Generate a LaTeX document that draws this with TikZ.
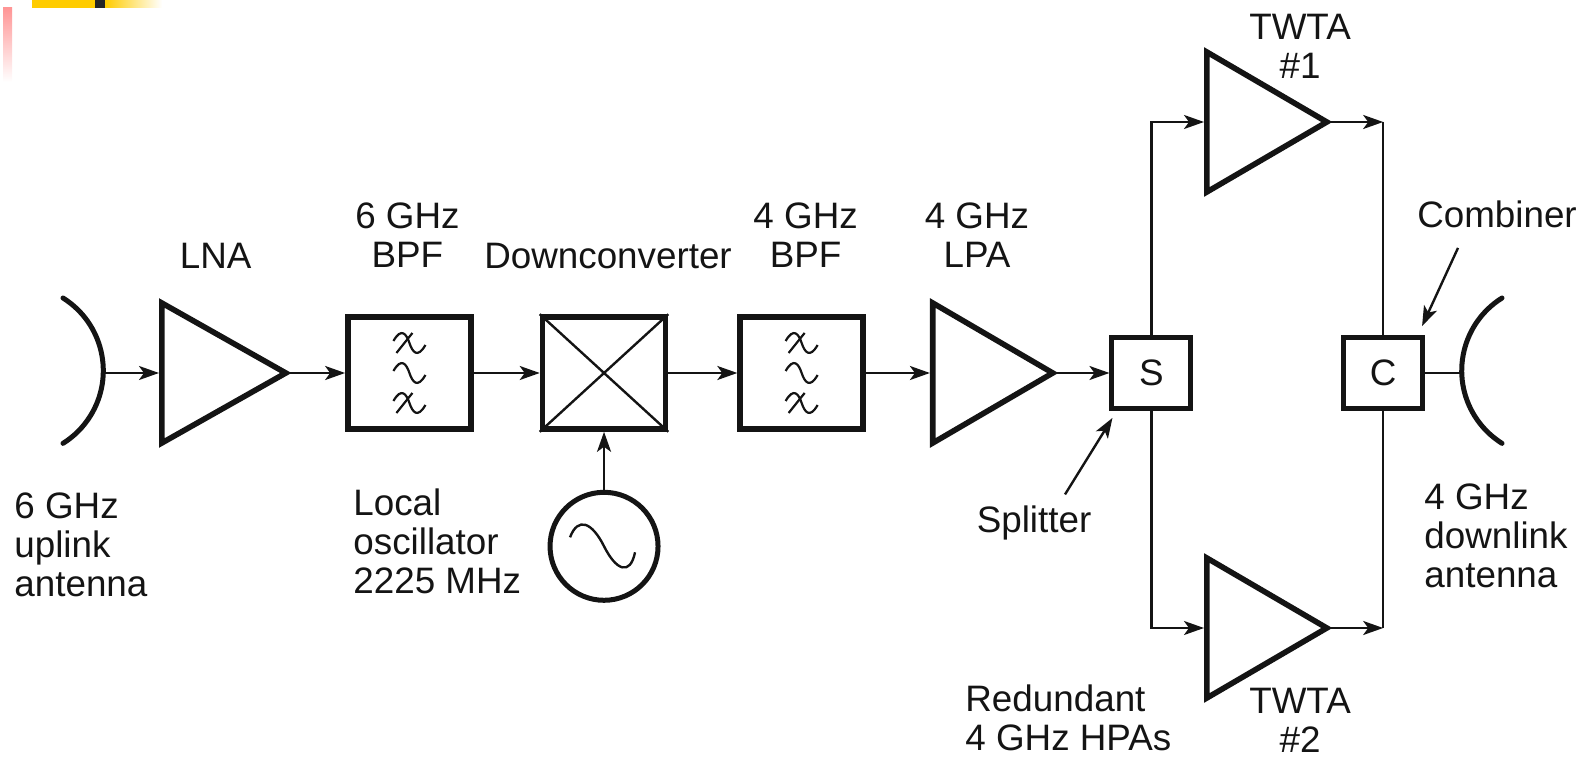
\documentclass[tikz,border=0pt]{standalone}
\usepackage{fontspec}
\setmainfont{Liberation Sans}
\usetikzlibrary{arrows.meta,positioning,shapes.geometric}
\usepackage{xcolor}
\definecolor{lineblack}{RGB}{20,20,20}
\definecolor{baryellow}{RGB}{255,204,0}
\definecolor{barred}{RGB}{255,150,150}

\begin{document}
\begin{tikzpicture}[
  x=0.5pt, y=-0.5pt,
  box/.style={rectangle, draw=lineblack, line width=2.8pt, minimum width=61.5pt, minimum height=56pt, inner sep=0pt},
  sbox/.style={rectangle, draw=lineblack, line width=2.4pt, minimum width=39.5pt, minimum height=35.5pt, inner sep=0pt, font=\fontsize{18.4}{19.5}\selectfont, text=lineblack},
  amp/.style={isosceles triangle, isosceles triangle stretches, shape border rotate=0, draw=lineblack, line width=2.8pt, minimum width=70pt, minimum height=60pt, inner sep=0pt},
  osc/.style={circle, draw=lineblack, line width=2.5pt, minimum size=54pt, inner sep=0pt},
  lbl/.style={font=\fontsize{18.4}{19.5}\selectfont, text=lineblack, align=center, inner sep=0pt},
  lbll/.style={lbl, align=left},
  arr/.style={-{Stealth[length=10pt,width=7pt,inset=2.5pt]}, line width=1.2pt, draw=lineblack},
  wire/.style={line width=1.2pt, draw=lineblack},
  dish/.style={line width=2.5pt, draw=lineblack, line cap=round},
  filt/.pic={
    \draw[line width=1.1pt, draw=lineblack] (-16,-2) .. controls (-8,-16) and (-3,-9) .. (0,0) .. controls (3,9) and (8,16) .. (16,2);
  },
  slash/.pic={
    \draw[line width=1.1pt, draw=lineblack] (-13,10) -- (3,-10);
  },
  sine/.pic={
    \draw[line width=1.2pt, draw=lineblack] (-34,-9) .. controls (-26,-30) and (-12,-24) .. (0,0) .. controls (12,24) and (26,30) .. (31,6);
  }
]
\useasboundingbox (0,0) rectangle (1588,758);

% corner marks
\fill[baryellow] (32,0) rectangle (95,8);
\fill[black!85] (95,0) rectangle (105,8);
\shade[left color=baryellow, right color=white] (105,0) rectangle (162,8);
\shade[top color=barred, bottom color=white] (3,8) rectangle (12,82);

% antennas
\coordinate (ant1) at (103,373);
\coordinate (ant2) at (1460,373);
\draw[dish] (63,298) arc[start angle=58, end angle=-58, radius=42.85pt];
\draw[dish] (1502,298) arc[start angle=122, end angle=238, radius=42.85pt];

% main row
\node[amp, minimum height=62pt, right=28pt of ant1] (lna) {};
\node[box, right=26pt of lna] (bpf1) {};
\node[box, right=33pt of bpf1] (dc) {};
\node[box, right=34.5pt of dc] (bpf2) {};
\node[amp, right=32pt of bpf2] (lpa) {};
\node[sbox, right=24.7pt of lpa] (s) {S};
\node[sbox, right=74pt of s] (c) {C};
\node[osc, below=29pt of dc] (lo) {};
\node[amp, anchor=lower side] (twta1) at (1204,122) {};
\node[amp, anchor=lower side] (twta2) at (1204,628) {};

\foreach \b in {bpf1,bpf2} {
  \pic at ([yshift=15pt]\b.center) {filt};
  \pic at ([yshift=15pt]\b.center) {slash};
  \pic at (\b.center) {filt};
  \pic at ([yshift=-15pt]\b.center) {filt};
  \pic at ([yshift=-15pt]\b.center) {slash};
}
\draw[wire] (dc.north west) -- (dc.south east);
\draw[wire] (dc.north east) -- (dc.south west);
\pic at (lo.center) {sine};

% labels
\node[lbl, above=27pt of lna, xshift=6.5pt] (llna) {LNA};
\node[lbl, above=23pt of bpf1, xshift=-1pt] (lbpf1) {6 GHz\\BPF};
\node[lbl, above=22.5pt of dc, xshift=2pt] (ldc) {Downconverter};
\node[lbl, above=23pt of bpf2, xshift=2pt] (lbpf2) {4 GHz\\BPF};
\node[lbl, above=27.5pt of lpa, xshift=2pt] (llpa) {4 GHz\\LPA};
\node[lbl] (ltwta1) at (1300,46) {TWTA\\\#1};
\node[lbl] (ltwta2) at (1300,720) {TWTA\\\#2};
\node[lbl] (lcomb) at (1497,214) {Combiner};
\node[lbl] (lsplit) at (1034,523) {Splitter};
\node[lbll, anchor=west] (lred) at (965,718) {Redundant\\4 GHz HPAs};
\node[lbll, anchor=west] (llo) at (353,541) {Local\\oscillator\\2225 MHz};
\node[lbll, anchor=west] (lup) at (14,545) {6 GHz\\uplink\\antenna};
\node[lbll, anchor=west] (ldown) at (1424,536) {4 GHz\\downlink\\antenna};

% connectors
\draw[arr] (ant1) -- (lna);
\draw[arr, shorten <=-3pt] (lna.apex) -- (bpf1);
\draw[arr] (bpf1) -- (dc);
\draw[arr] (dc) -- (bpf2);
\draw[arr] (bpf2) -- (lpa);
\draw[arr, shorten <=-3pt] (lpa.apex) -- (s);
\draw[arr] (lo) -- (dc);
\draw[arr] (s.north) |- (twta1.lower side);
\draw[arr] (s.south) |- (twta2.lower side);
\draw[arr, shorten <=-3pt] (twta1.apex) -- (twta1.apex -| c.north);
\draw[arr, shorten <=-3pt] (twta2.apex) -- (twta2.apex -| c.south);
\draw[wire] (twta1.apex -| c.north) -- (c.north);
\draw[wire] (twta2.apex -| c.south) -- (c.south);
\draw[wire] (c) -- (ant2);
\draw[arr] ([shift={(31,-11)}]lsplit.north) -- ([shift={(3,7)}]s.south west);
\draw[arr] ([shift={(-39,20)}]lcomb.south) -- ([shift={(-3,-9)}]c.north east);
\end{tikzpicture}
\end{document}
